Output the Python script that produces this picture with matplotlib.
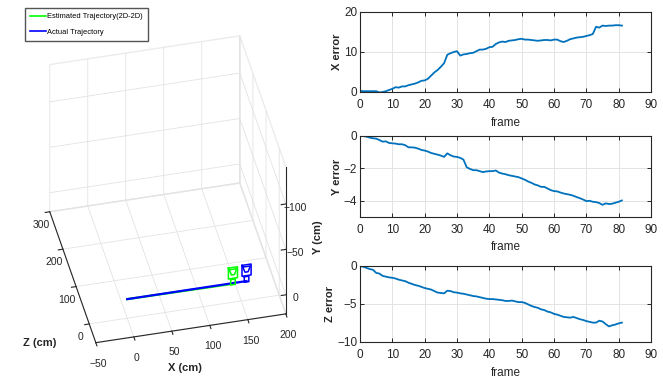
import numpy as np
import matplotlib
matplotlib.use("Agg")
import matplotlib.pyplot as plt
from matplotlib.lines import Line2D

plt.rcParams['font.family'] = ['Liberation Sans Narrow', 'Liberation Sans', 'DejaVu Sans']

# ---------------------------------------------------------------------------
# data
frames = np.arange(0, 82)

x_err = [0.3, 0.2, 0.2, 0.2, 0.2, 0.2, -0.1, 0.0, 0.2, 0.5,
         0.8, 1.2, 1.1, 1.4, 1.4, 1.7, 1.9, 2.1, 2.4, 2.8,
         2.9, 3.3, 4.1, 4.9, 5.5, 6.3, 7.2, 9.3, 9.7, 10.0,
         10.2, 9.1, 9.4, 9.5, 9.7, 9.8, 10.2, 10.6, 10.6, 10.8,
         11.2, 11.3, 12.0, 12.4, 12.6, 12.5, 12.8, 12.9, 13.0, 13.2,
         13.3, 13.1, 13.1, 13.0, 12.9, 12.8, 12.9, 13.0, 13.0, 12.9,
         13.1, 13.1, 12.7, 12.5, 12.8, 13.2, 13.4, 13.6, 13.7, 13.8,
         14.0, 14.2, 14.5, 16.3, 16.1, 16.6, 16.5, 16.6, 16.6, 16.7,
         16.7, 16.6]

y_err = [0.0, 0.0, -0.04, -0.1, -0.14, -0.16, -0.25, -0.35, -0.33, -0.43,
         -0.45, -0.47, -0.51, -0.51, -0.57, -0.7, -0.7, -0.72, -0.78, -0.86,
         -0.9, -0.96, -1.05, -1.1, -1.15, -1.21, -1.29, -1.07, -1.19, -1.27,
         -1.29, -1.35, -1.46, -1.93, -2.03, -2.11, -2.11, -2.17, -2.23, -2.19,
         -2.17, -2.17, -2.13, -2.26, -2.32, -2.36, -2.42, -2.46, -2.5, -2.54,
         -2.62, -2.7, -2.81, -2.89, -2.99, -3.05, -3.14, -3.14, -3.24, -3.34,
         -3.4, -3.42, -3.49, -3.55, -3.59, -3.63, -3.69, -3.77, -3.84, -3.92,
         -4.02, -4.0, -4.06, -4.08, -4.14, -4.25, -4.16, -4.2, -4.18, -4.12,
         -4.06, -3.98]

z_err = [0.0, -0.1, -0.25, -0.4, -0.5, -0.9, -1.0, -1.3, -1.4, -1.5,
         -1.55, -1.65, -1.8, -1.9, -2.0, -2.2, -2.35, -2.5, -2.6, -2.75,
         -2.9, -3.0, -3.1, -3.3, -3.5, -3.55, -3.6, -3.25, -3.3, -3.45,
         -3.5, -3.6, -3.65, -3.75, -3.85, -3.95, -4.0, -4.1, -4.2, -4.3,
         -4.35, -4.35, -4.4, -4.45, -4.5, -4.6, -4.6, -4.55, -4.65, -4.75,
         -4.75, -4.85, -5.05, -5.25, -5.4, -5.5, -5.7, -5.8, -6.0, -6.1,
         -6.3, -6.4, -6.55, -6.7, -6.75, -6.8, -6.7, -6.85, -7.0, -7.1,
         -7.25, -7.35, -7.45, -7.45, -7.2, -7.3, -7.65, -7.95, -7.8, -7.7,
         -7.55, -7.45]

# trajectory start / end points (cm): X, Y, Z
actual_x = [0, 157]
actual_y = [0, 0]
actual_z = [0, 0]
est_x = [0, 140.4]
est_y = [0, 4.0]
est_z = [0, 7.5]

TXT = '#262626'
LINE = '#0072BD'

fig = plt.figure(figsize=(6.63, 3.87), dpi=100)

# ---------------------------------------------------------------------------
# 3D trajectory view
ax3 = fig.add_axes([-0.0345, -0.012, 0.56, 1.02], projection='3d')
ax3.set_proj_type('ortho')

# plot data X -> x, data Z -> y (depth), data Y -> vertical
ax3.plot(est_x, est_z, est_y, color='#00ff00', lw=1.6)
ax3.plot(actual_x, actual_z, actual_y, color='#0000ff', lw=1.6)


def camera(ax, x, y, z, color):
    # small wireframe camera glyph drawn around (x, y, z)
    bx = np.array([-6, 6, 6, -6, -6])
    by = np.array([-18, -18, -6, -6, -18])
    ax.plot(x + bx, [z] * 5, y + by, color=color, lw=1.1)
    lx = np.array([-5, 5, 2, -2, -5])
    ly = np.array([-16, -16, -10, -10, -16])
    ax.plot(x + lx, [z] * 5, y + ly, color=color, lw=1.1)
    sx = np.array([-3, 3, 3, -3, -3])
    sy = np.array([-5, -5, 1, 1, -5])
    ax.plot(x + sx, [z] * 5, y + sy, color=color, lw=1.1)


camera(ax3, est_x[-1], est_y[-1], est_z[-1], '#00ff00')
camera(ax3, actual_x[-1], actual_y[-1], actual_z[-1], '#0000ff')

ax3.set_xlim(-50, 200)
ax3.set_ylim(-50, 300)
ax3.set_zlim(21, -141)
ax3.set_xticks([-50, 0, 50, 100, 150, 200])
ax3.set_yticks([0, 100, 200, 300])
ax3.set_zticks([-100, -50, 0])
ax3.set_box_aspect((1, 1.05, 1), zoom=0.898)
ax3.view_init(elev=41, azim=-103)
# vertical axis on the front-right edge, labels pushed sideways only
ax3.zaxis.set_ticks_position('lower')
ax3.zaxis._get_tickdir = lambda position: 0
ax3.zaxis._axmask = lambda: [True, False, False]

for axis in (ax3.xaxis, ax3.yaxis, ax3.zaxis):
    axis.pane.set_facecolor((1, 1, 1, 0))
    axis.pane.set_edgecolor('#d9d9d9')
    axis._axinfo['grid']['color'] = '#e3e3e3'
    axis._axinfo['grid']['linewidth'] = 0.6
    axis._axinfo['tick']['inward_factor'] = 0.3
    axis._axinfo['tick']['outward_factor'] = 0.0
    axis.line.set_color('#262626')
    axis.line.set_linewidth(0.8)
ax3.tick_params(labelsize=7.5, colors=TXT, pad=0)
ax3.yaxis.set_tick_params(pad=-1.5)
ax3.zaxis.set_tick_params(pad=-1)
ax3.set_xlabel('')
ax3.set_ylabel('')
ax3.set_zlabel('')

lab3 = dict(fontsize=8, fontweight='bold', color=TXT, ha='center', va='center')
fig.text(185 / 663, 1 - 368 / 387, 'X (cm)', **lab3)
fig.text(40 / 663, 1 - 343 / 387, 'Z (cm)', **lab3)
fig.text(318 / 663, 1 - 237 / 387, 'Y (cm)', rotation=90, **lab3)

handles = [Line2D([], [], color='#00ff00', lw=1.2),
           Line2D([], [], color='#0000ff', lw=1.2)]
fig.legend(handles, ['Estimated Trajectory(2D-2D)', 'Actual Trajectory'],
           loc='upper left', bbox_to_anchor=(25 / 663, 1 - 8 / 387),
           fontsize=5.4, fancybox=False, edgecolor='#555555', framealpha=1,
           handlelength=2.2, handletextpad=0.1, borderpad=0.65,
           labelspacing=1.1, borderaxespad=0)

# ---------------------------------------------------------------------------
# error plots
W = 663.0
H = 387.0
panels = [(x_err, 'X error', (12, 92), (0, 20), [0, 10, 20]),
          (y_err, 'Y error', (136, 217), (-5, 0), [-4, -2, 0]),
          (z_err, 'Z error', (266, 342), (-10, 0), [-10, -5, 0])]

for vals, lab, (top, bot), ylim, yticks in panels:
    ax = fig.add_axes([360 / W, 1 - bot / H, 291 / W, (bot - top) / H])
    ax.plot(frames, vals, color=LINE, lw=1.3)
    ax.set_xlim(0, 90)
    ax.set_ylim(*ylim)
    ax.set_xticks(np.arange(0, 91, 10))
    ax.set_yticks(yticks)
    ax.grid(True, color='#e3e3e3', lw=0.7)
    ax.tick_params(direction='in', length=3, top=True, right=True,
                   labelsize=8.5, colors=TXT, width=0.7)
    ax.tick_params(axis='x', pad=5)
    ax.tick_params(axis='y', pad=2)
    for s in ax.spines.values():
        s.set_color('#262626')
        s.set_linewidth(0.8)
    ax.set_xlabel('frame', fontsize=8.5, color=TXT, labelpad=4)
    ax.set_ylabel(lab, fontsize=8, fontweight='bold', color=TXT, labelpad=1.5)

fig.savefig('out.png', dpi=100)
